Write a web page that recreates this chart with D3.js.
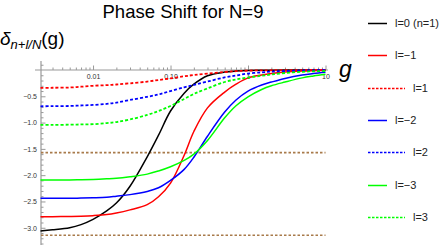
<!DOCTYPE html>
<html lang="en">
	<head>
		<meta charset="utf-8">
		<title>Phase Shift for N=9</title>
		<script src="https://d3js.org/d3.v7.min.js"></script>
		<style type="text/css">
			body { margin: 0; background: #fff; }
			text { font-family: "Liberation Sans", Arial, sans-serif; }
			.tick text { font-size: 7px; fill: #333; }
			.legend text { font-size: 11px; fill: #222; }
		</style>
	</head>
	<body>
		<script type="text/javascript">
			var w = 444;
			var h = 245;

			// coupling values g (log axis) shared by all curves
			var gValues = [0.0021, 0.003, 0.005, 0.007, 0.01, 0.015, 0.02, 0.03, 0.05, 0.07, 0.1,
				0.15, 0.2, 0.3, 0.5, 0.7, 1, 1.5, 2, 3, 5, 7, 10];

			// phase shift values
			var l0  = [-3.06, -3.04, -3.00, -2.94, -2.84, -2.68, -2.53, -2.21, -1.65, -1.24, -0.78,
				-0.44, -0.27, -0.11, -0.04, -0.02, -0.01, -0.006, -0.004, -0.002, -0.001, 0, 0];
			var lm1 = [-2.79, -2.79, -2.785, -2.78, -2.77, -2.75, -2.72, -2.66, -2.56, -2.41, -2.15,
				-1.62, -1.17, -0.72, -0.42, -0.27, -0.15, -0.095, -0.066, -0.04, -0.02, -0.012, -0.006];
			var lp1 = [-0.34, -0.338, -0.333, -0.318, -0.30, -0.288, -0.276, -0.253, -0.22, -0.19, -0.16,
				-0.12, -0.095, -0.067, -0.038, -0.022, -0.012, -0.007, -0.005, -0.003, -0.001, 0, 0];
			var lm2 = [-2.44, -2.44, -2.44, -2.435, -2.43, -2.42, -2.40, -2.37, -2.31, -2.24, -2.10,
				-1.89, -1.66, -1.26, -0.80, -0.57, -0.40, -0.285, -0.23, -0.16, -0.095, -0.067, -0.044];
			var lp2 = [-0.69, -0.688, -0.684, -0.675, -0.665, -0.645, -0.62, -0.57, -0.51, -0.466, -0.40,
				-0.33, -0.285, -0.22, -0.14, -0.105, -0.067, -0.045, -0.03, -0.02, -0.01, -0.006, -0.004];
			var lm3 = [-2.09, -2.09, -2.09, -2.085, -2.08, -2.07, -2.06, -2.03, -1.98, -1.92, -1.84,
				-1.72, -1.60, -1.34, -0.91, -0.68, -0.51, -0.37, -0.30, -0.23, -0.15, -0.114, -0.082];
			var lp3 = [-1.045, -1.045, -1.04, -1.035, -1.03, -1.01, -0.99, -0.94, -0.855, -0.78, -0.685,
				-0.55, -0.456, -0.35, -0.228, -0.18, -0.143, -0.11, -0.086, -0.057, -0.034, -0.025, -0.019];

			var seriesNames = ["l=0 (n=1)", "l=\u22121", "l=1", "l=\u22122", "l=2", "l=\u22123", "l=3"];
			var seriesData = [l0, lm1, lp1, lm2, lp2, lm3, lp3];
			var seriesColors = ["#000000", "#ff0000", "#ff0000", "#0000ff", "#0000ff", "#00ff00", "#00ff00"];
			var seriesDotted = [false, false, true, false, true, false, true];

			// reference levels -pi/2 and -pi
			var refLevels = [-Math.PI / 2, -Math.PI];

			var xMajor = [0.01, 0.1, 1, 10];
			var xMajorLabels = ["0.01", "0.10", "1", "10"];
			var yMajor = [-0.5, -1.0, -1.5, -2.0, -2.5, -3.0];

			var xScale = d3.scaleLog()
				.domain([0.00213, 10])
				.range([41, 325.5]);

			var yScale = d3.scaleLinear()
				.domain([0, -Math.PI])
				.range([70, 235.2]);

			var svg = d3.select("body")
				.append("svg")
				.attr("width", w)
				.attr("height", h);

			// title
			svg.append("text")
				.attr("x", 183)
				.attr("y", 18)
				.attr("text-anchor", "middle")
				.style("font-size", "18.5px")
				.text("Phase Shift for N=9");

			// y label
			var yl = svg.append("text")
				.attr("x", 0)
				.attr("y", 45);
			yl.append("tspan").style("font-size", "19px").style("font-style", "italic").text("\u03b4");
			yl.append("tspan").attr("dy", 4).style("font-size", "13px").style("font-style", "italic").text("n+l/N");
			yl.append("tspan").attr("dy", -4).style("font-size", "19px").text("(g)");

			// x label
			svg.append("text")
				.attr("x", 339)
				.attr("y", 77)
				.style("font-size", "23px")
				.style("font-style", "italic")
				.text("g");

			// x minor ticks
			var xMinor = [];
			[0.001, 0.01, 0.1, 1].forEach(function(d) {
				for (var k = 2; k <= 9; k++) {
					if (d * k > 0.00213 && d * k < 10) xMinor.push(d * k);
				}
			});

			var axisColor = "#999";

			svg.append("g")
				.attr("transform", "translate(0," + yScale(0) + ")")
				.call(d3.axisTop(xScale).tickValues(xMinor).tickSize(2.5).tickFormat(""))
				.call(function(g) { g.select(".domain").remove(); g.selectAll("line").attr("stroke", axisColor); });

			svg.append("g")
				.attr("transform", "translate(0," + yScale(0) + ")")
				.call(d3.axisTop(xScale).tickValues(xMajor).tickSize(4.5).tickFormat(""))
				.call(function(g) { g.select(".domain").remove(); g.selectAll("line").attr("stroke", axisColor); });

			svg.append("g")
				.attr("transform", "translate(0," + yScale(0) + ")")
				.call(d3.axisBottom(xScale).tickValues(xMajor).tickSize(0).tickPadding(4)
					.tickFormat(function(d, i) { return xMajorLabels[i]; }))
				.call(function(g) { g.select(".domain").remove(); });

			// y ticks
			var yMinor = d3.range(1, -34, -1).map(function(d) { return d / 10; })
				.filter(function(d) { return yMajor.indexOf(d) < 0 && d !== 0; });

			svg.append("g")
				.attr("transform", "translate(" + xScale(0.00213) + ",0)")
				.call(d3.axisRight(yScale).tickValues(yMinor).tickSize(2.5).tickFormat(""))
				.call(function(g) { g.select(".domain").remove(); g.selectAll("line").attr("stroke", axisColor); });

			svg.append("g")
				.attr("transform", "translate(" + xScale(0.00213) + ",0)")
				.call(d3.axisRight(yScale).tickValues(yMajor).tickSize(4.5).tickFormat(""))
				.call(function(g) { g.select(".domain").remove(); g.selectAll("line").attr("stroke", axisColor); });

			svg.append("g")
				.attr("transform", "translate(" + xScale(0.00213) + ",0)")
				.call(d3.axisLeft(yScale).tickValues(yMajor).tickSize(0).tickPadding(4)
					.tickFormat(function(d) { return d3.format(".1f")(d).replace("-", "\u2212"); }))
				.call(function(g) { g.select(".domain").remove(); });

			// axis lines
			svg.append("line")
				.attr("x1", 35).attr("x2", 328)
				.attr("y1", yScale(0)).attr("y2", yScale(0))
				.attr("stroke", axisColor).attr("stroke-width", 1.2);
			svg.append("line")
				.attr("x1", xScale(0.00213)).attr("x2", xScale(0.00213))
				.attr("y1", yScale(0.17)).attr("y2", h)
				.attr("stroke", axisColor).attr("stroke-width", 1.2);

			// reference lines
			svg.selectAll("line.ref")
				.data(refLevels)
				.enter()
				.append("line")
				.attr("class", "ref")
				.attr("x1", xScale(0.00213))
				.attr("x2", xScale(10))
				.attr("y1", function(d) { return yScale(d); })
				.attr("y2", function(d) { return yScale(d); })
				.attr("stroke", "#a87a4a")
				.attr("stroke-width", 1.6)
				.attr("stroke-dasharray", "2.5,2");

			var line = d3.line()
				.x(function(d, i) { return xScale(gValues[i]); })
				.y(function(d) { return yScale(d); })
				.curve(d3.curveCatmullRom.alpha(0.5));

			svg.selectAll("path.curve")
				.data(seriesData)
				.enter()
				.append("path")
				.attr("class", "curve")
				.attr("fill", "none")
				.attr("d", function(d) { return line(d); })
				.attr("stroke", function(d, i) { return seriesColors[i]; })
				.attr("stroke-width", function(d, i) { return seriesDotted[i] ? 1.8 : 1.5; })
				.attr("stroke-dasharray", function(d, i) { return seriesDotted[i] ? "3,2" : null; });

			// legend
			var legend = svg.selectAll(".legend")
				.data(seriesNames)
				.enter()
				.append("g")
				.attr("class", "legend")
				.attr("transform", function(d, i) {
					return "translate(368," + (Math.round(23 + i * 32.3) + 0.5) + ")";
				});

			legend.append("line")
				.attr("x1", 0)
				.attr("x2", function(d, i) { return seriesDotted[i] ? 37 : 19; })
				.attr("y1", 0).attr("y2", 0)
				.attr("stroke", function(d, i) { return seriesColors[i]; })
				.attr("stroke-width", 1.5)
				.attr("stroke-dasharray", function(d, i) { return seriesDotted[i] ? "2.5,1.5" : null; });

			legend.append("text")
				.attr("x", function(d, i) { return seriesDotted[i] ? 45 : 27; })
				.attr("y", 0)
				.attr("dy", "0.35em")
				.text(function(d) { return d; });
		</script>
</body>
</html>
